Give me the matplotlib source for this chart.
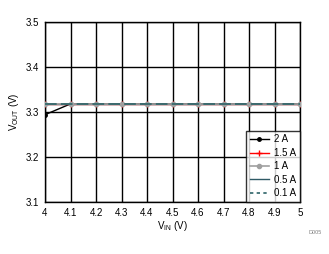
import matplotlib.pyplot as plt

# Data
vin = [4.0, 4.1, 4.2, 4.3, 4.4, 4.5, 4.6, 4.7, 4.8, 4.9, 5.0]
vout_2a = [3.294, 3.318, 3.318, 3.318, 3.318, 3.318, 3.318, 3.318, 3.318, 3.318, 3.318]
vout_1p5a = [3.318] * 11
vout_1a = [3.318] * 11
vout_0p5a = [3.318] * 11
vout_0p1a = [3.318] * 11

plt.rcParams['font.family'] = ['Liberation Sans', 'DejaVu Sans']
fig = plt.figure(figsize=(3.29, 2.54), dpi=100)
ax = fig.add_axes([45 / 329, 52 / 254, 255 / 329, 180 / 254])

ax.plot(vin, vout_2a, color='black', marker='o', markersize=2.5, lw=1, label='2 A', zorder=3)
ax.plot(vin, vout_1p5a, color='red', marker='+', markersize=5, lw=1, label='1.5 A', zorder=3)
ax.plot(vin, vout_0p5a, color='#2f5a66', lw=1, label='0.5 A', zorder=3)
ax.plot(vin, vout_1a, color='#a0a0a0', marker='o', markersize=3, lw=1.2, label='1 A', zorder=4)
ax.plot(vin, vout_0p1a, color='#2e6468', lw=1.2, ls=(0, (7, 2.5)), label='0.1 A', zorder=5)

ax.set_xlim(4, 5)
ax.set_ylim(3.1, 3.5)
ax.set_xticks([4 + i * 0.1 for i in range(11)])
ax.set_xticklabels(['4', '4.1', '4.2', '4.3', '4.4', '4.5', '4.6', '4.7', '4.8', '4.9', '5'])
ax.set_yticks([3.1, 3.2, 3.3, 3.4, 3.5])
ax.grid(True, color='black', lw=1)
ax.tick_params(length=0, labelsize=7, pad=4)
for s in ax.spines.values():
    s.set_linewidth(1)

ax.set_xlabel('V$_{\\mathregular{IN}}$ (V)', fontsize=7, labelpad=1)
ax.set_ylabel('V$_{\\mathregular{OUT}}$ (V)', fontsize=7, labelpad=4)

handles, labels = ax.get_legend_handles_labels()
order = [0, 1, 3, 2, 4]
leg = ax.legend([handles[i] for i in order], [labels[i] for i in order],
                loc='lower right', fontsize=7, frameon=True, fancybox=False,
                borderaxespad=0, handlelength=2.0, handletextpad=0.5,
                labelspacing=0.35, borderpad=0.4)
leg.get_frame().set_edgecolor('black')
leg.get_frame().set_linewidth(1)
leg.set_zorder(10)
leg.get_lines()[4].set_linestyle((0, (2, 2)))

fig.text(315 / 329, 1 - 233 / 254, 'D005', fontsize=4, color='#808080', ha='center', va='center')

fig.savefig('out.png', dpi=100)
